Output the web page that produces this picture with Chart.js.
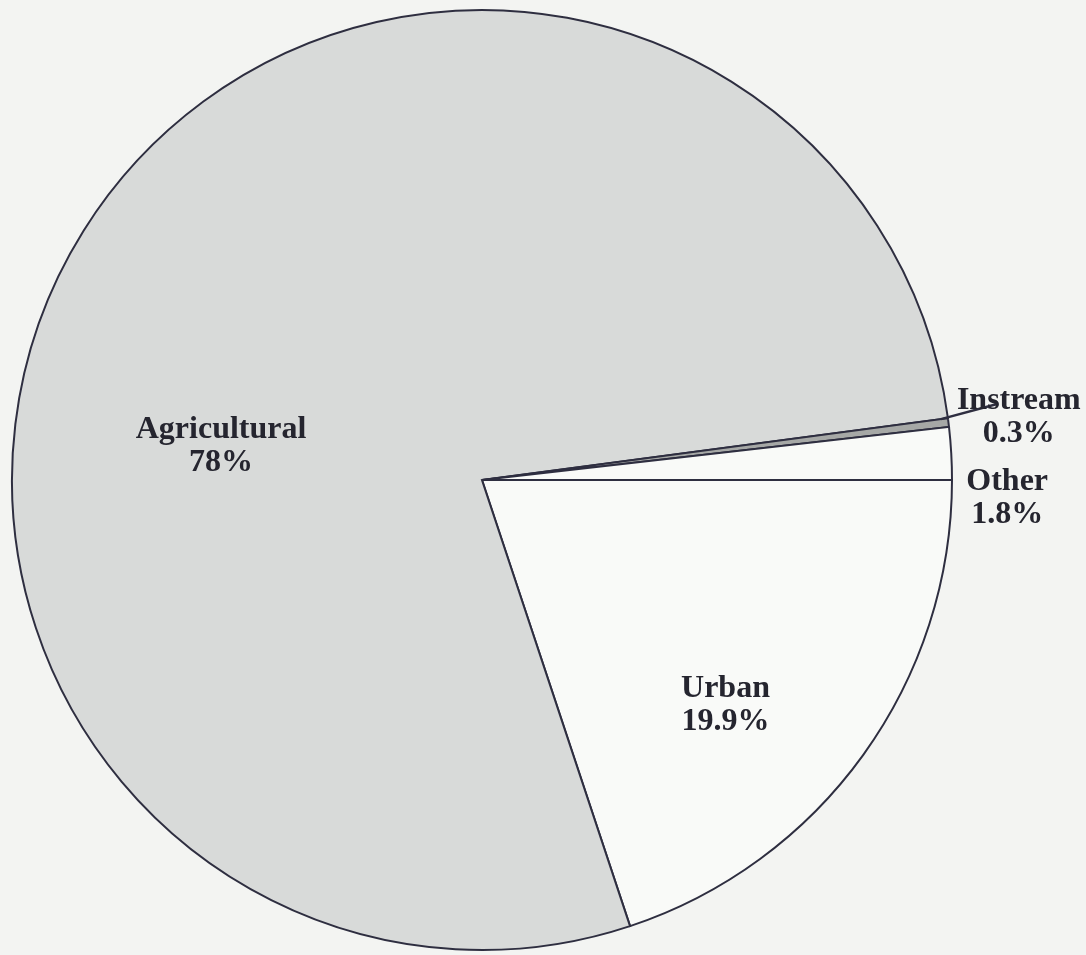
<!DOCTYPE html>
<html>
<head>
<meta charset="utf-8">
<script src="https://cdn.jsdelivr.net/npm/chart.js@4/dist/chart.umd.min.js"></script>
<style>
  html, body { margin: 0; padding: 0; background: #f3f4f2; }
  #wrap { width: 1086px; height: 955px; position: relative; }
</style>
</head>
<body>
<div id="wrap"><canvas id="c" width="1086" height="955"></canvas></div>
<script>
// Data (clockwise from 3 o'clock)
const categories = ['Urban', 'Agricultural', 'Instream', 'Other'];
const shares = [19.9, 78, 0.3, 1.8];
const shareLabels = ['19.9%', '78%', '0.3%', '1.8%'];

// Styling
const sliceColors = ['#f9faf8', '#d8dad9', '#a6a8a6', '#f9faf8'];
const borderColor = '#2e2e40';
const textColor = '#25252f';
// Label placement: polar offset from the pie centre (degrees, fraction of radius)
const labelPlacement = [
  { angle: 42.7, dist: 0.705 },
  { angle: 187.5, dist: 0.56 },
  { angle: -6.7, dist: 1.15 },
  { angle: 1.9, dist: 1.118 }
];
const leader = { index: 2, fromDist: 0.985, toAngle: -8.4, toDist: 1.108 };

const labelPlugin = {
  id: 'sliceLabels',
  afterDatasetsDraw(chart) {
    const ctx = chart.ctx;
    const arcs = chart.getDatasetMeta(0).data;
    if (!arcs.length) return;
    const cx = arcs[0].x, cy = arcs[0].y, r = arcs[0].outerRadius;
    ctx.save();
    // leader line for the thin slice
    const a = arcs[leader.index];
    const from = a.startAngle;
    const ta = leader.toAngle * Math.PI / 180;
    ctx.strokeStyle = borderColor;
    ctx.lineWidth = 2.5;
    ctx.beginPath();
    ctx.moveTo(cx + Math.cos(from) * r * leader.fromDist, cy + Math.sin(from) * r * leader.fromDist);
    ctx.lineTo(cx + Math.cos(ta) * r * leader.toDist, cy + Math.sin(ta) * r * leader.toDist);
    ctx.stroke();

    ctx.fillStyle = textColor;
    ctx.font = 'bold 32px "Liberation Serif", "Times New Roman", serif';
    ctx.textAlign = 'center';
    ctx.textBaseline = 'middle';
    categories.forEach((cat, i) => {
      const p = labelPlacement[i];
      const ang = p.angle * Math.PI / 180;
      const x = cx + Math.cos(ang) * r * p.dist;
      const y = cy + Math.sin(ang) * r * p.dist;
      ctx.fillText(cat, x, y - 16);
      ctx.fillText(shareLabels[i], x, y + 17);
    });
    ctx.restore();
  }
};

new Chart(document.getElementById('c'), {
  type: 'pie',
  data: {
    labels: categories,
    datasets: [{
      data: shares,
      backgroundColor: sliceColors,
      borderColor: borderColor,
      borderWidth: 2,
      hoverBorderWidth: 2,
      hoverOffset: 0,
      offset: 0,
      borderJoinStyle: 'miter'
    }]
  },
  options: {
    responsive: false,
    animation: false,
    rotation: 90,
    radius: 470,
    layout: { padding: { left: 10, right: 132, top: 8, bottom: 3 } },
    plugins: {
      legend: { display: false },
      tooltip: { enabled: false }
    },
    events: []
  },
  plugins: [labelPlugin]
});
</script>
</body>
</html>
